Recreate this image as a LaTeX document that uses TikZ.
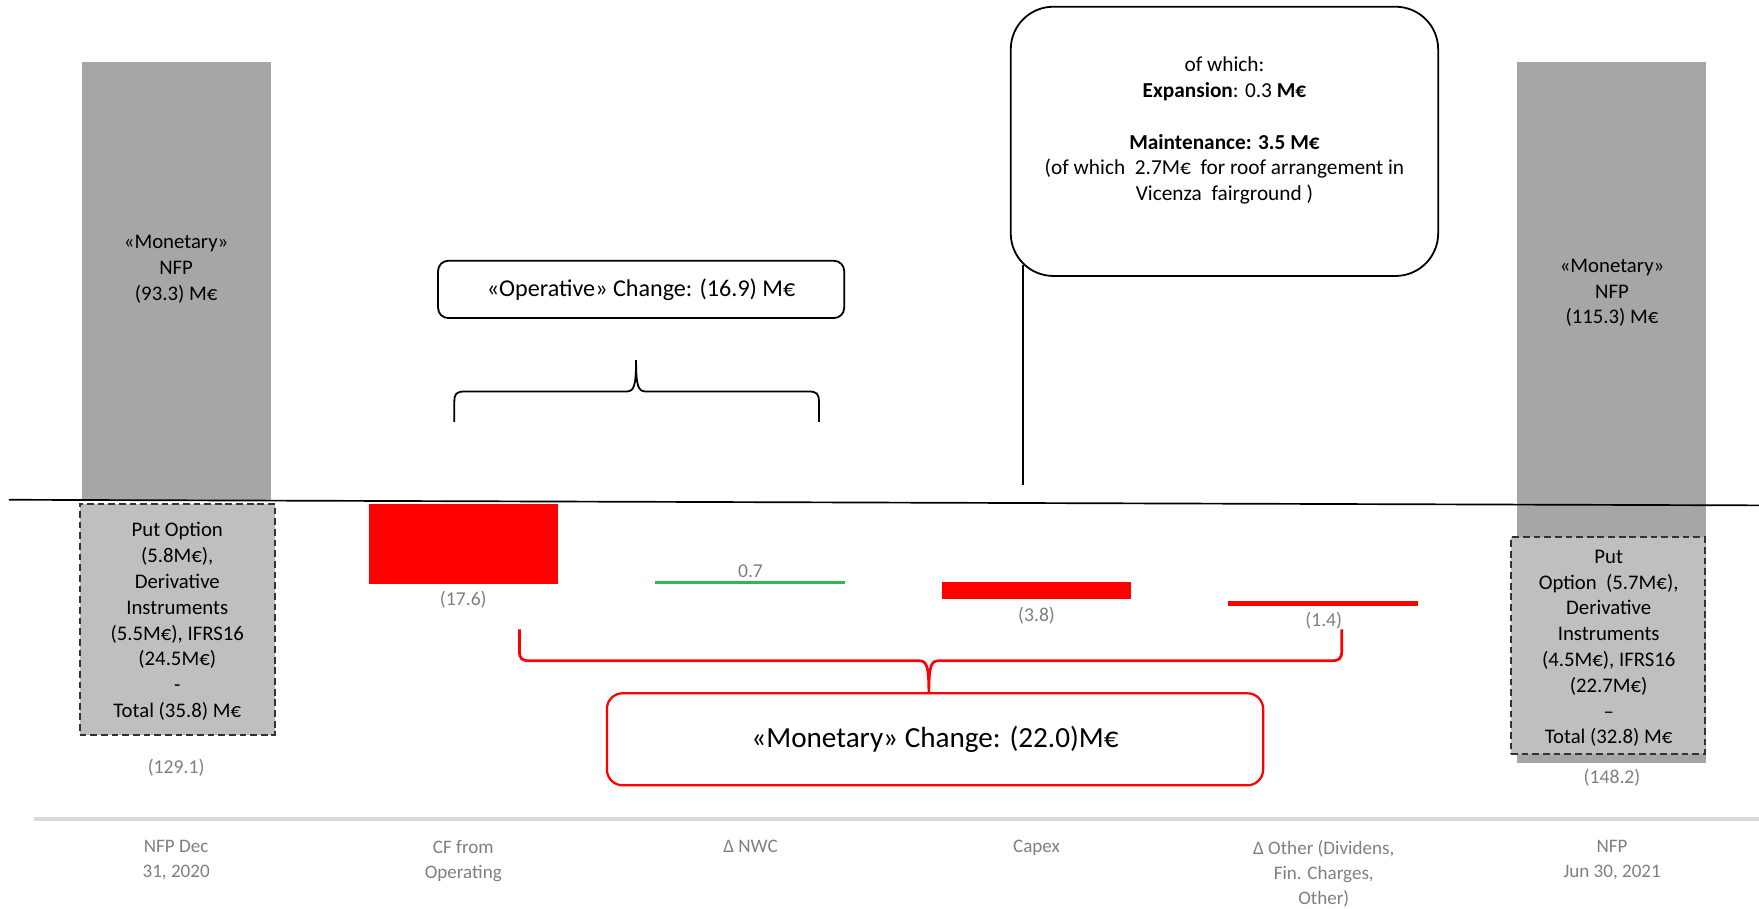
\documentclass[tikz,border=0pt]{standalone}
\usepackage{fontspec}
\setmainfont{Carlito}
\usetikzlibrary{calc}
\definecolor{barGray}{HTML}{A6A6A6}
\definecolor{boxGray}{HTML}{BFBFBF}
\definecolor{valGray}{HTML}{7F7F7F}
\definecolor{sepGray}{HTML}{D9D9D9}
\definecolor{nwcGreen}{HTML}{33B555}
\definecolor{negRed}{HTML}{FF0000}
\begin{document}
\begin{tikzpicture}[x=1pt,y=-1pt,
  every node/.style={inner sep=0pt, outer sep=0pt},
  graybar/.style={fill=barGray, draw=none, anchor=north west},
  dashbox/.style={fill=boxGray, draw=black!80, line width=1.6pt, dash pattern=on 6pt off 3.5pt, anchor=north west},
  redbar/.style={fill=negRed, draw=none, anchor=north west},
  bartext/.style={align=center, font=\fontsize{18.5}{23}\selectfont},
  vallabel/.style={text=valGray, font=\fontsize{17.5}{21}\selectfont},
  catlabel/.style={text=valGray, align=center, anchor=north, font=\fontsize{17}{22.5}\selectfont},
  roundbox/.style={draw=black, line width=1.6pt, rounded corners=9pt},
  bracepath/.style={line width=1.6pt},
  redbrace/.style={draw=negRed, line width=2.4pt},
]
\useasboundingbox (0,0) rectangle (1568,810);

% bars
\node[graybar, minimum width=169pt, minimum height=392pt] (nfpA) at (73,55) {};
\node[dashbox, minimum width=174pt, minimum height=206pt] (adjA) at (71,449) {};
\node[graybar, minimum width=169pt, minimum height=625pt] (nfpB) at (1352,55) {};
\node[dashbox, minimum width=173pt, minimum height=193pt] (adjB) at (1347,479) {};
\node[redbar, minimum width=168pt, minimum height=72pt] (cf) at (329,449) {};
\node[redbar, minimum width=168pt, minimum height=15pt] (capex) at (840,519) {};
\node[redbar, minimum width=169pt, minimum height=4.5pt] (other) at (1095,536) {};
\coordinate (nwcL) at (584,519);
\coordinate (nwcR) at (753,519);
\draw[nwcGreen, line width=2.5pt] (nwcL) -- (nwcR);

% axis and separator
\coordinate (axL) at (8,445.5);
\coordinate (axR) at (1568,450.5);
\draw[line width=1.5pt] (axL) -- (axR);
\coordinate (sepL) at (30,730);
\coordinate (sepR) at (1568,730);
\draw[sepGray, line width=3pt] (sepL) -- (sepR);

% bar texts
\node[bartext] (nfpAtxt) at (157,240) {«Monetary»\\NFP\\(93.3) M€};
\node[bartext] (adjAtxt) at (158,554) {Put Option\\(5.8M€),\\Derivative\\Instruments\\(5.5M€), IFRS16\\(24.5M€)\\-\\Total (35.8) M€};
\node[bartext] (nfpBtxt) at (1437,261) {«Monetary»\\NFP\\(115.3) M€};
\node[bartext] (adjBtxt) at (1434,578) {Put\\Option~ (5.7M€),\\Derivative\\Instruments\\(4.5M€), IFRS16\\(22.7M€)\\–\\Total (32.8) M€};

% value labels
\node[vallabel] (v1) at (157,684) {(129.1)};
\node[vallabel] (v2) at (413,535) {(17.6)};
\node[vallabel] (v3) at (669,509) {0.7};
\node[vallabel] (v4) at (924,549) {(3.8)};
\node[vallabel] (v5) at (1180,553) {(1.4)};
\node[vallabel] (v6) at (1437,693) {(148.2)};

% category labels
\node[catlabel] (c1) at (157,749) {NFP Dec\\31, 2020};
\node[catlabel] (c2) at (413,749) {CF from\\Operating};
\node[catlabel] (c3) at (669,749) {Δ NWC};
\node[catlabel] (c4) at (924,749) {Capex};
\node[catlabel] (c5) at (1180,749) {Δ Other (Dividens,\\Fin. Charges,\\Other)};
\node[catlabel] (c6) at (1437,749) {NFP\\Jun 30, 2021};

% operative box and brace
\node[roundbox, minimum width=362pt, minimum height=51pt, font=\fontsize{21.5}{26}\selectfont] (opbox) at (571.5,258) {«Operative» Change: (16.9) M€};
\coordinate (obL) at (405,376);
\coordinate (obR) at (730,376);
\coordinate (obTip) at (567,321);
\draw[bracepath] (obL) -- (405,358) .. controls (405,351) and (407,349) .. (414,349) -- (558,349) .. controls (565,349) and (567,345) .. (obTip) .. controls (567,345) and (569,349) .. (576,349) -- (721,349) .. controls (728,349) and (730,351) .. (730,358) -- (obR);

% capex callout
\node[roundbox, rounded corners=38pt, minimum width=381pt, minimum height=240pt] (capbox) at (1091.5,126) {};
\node[font=\fontsize{19}{23}\selectfont, align=center] (captxt) at (1091.5,116.5) {of which:\\\textbf{Expansion}: 0.3 \textbf{M€}\\[23pt]\textbf{Maintenance: 3.5 M€}\\(of which~ 2.7M€~ for roof arrangement in\\Vicenza~ fairground )};
\coordinate (capLineTop) at (912,236);
\coordinate (capLineBot) at (912,432);
\draw[line width=1.6pt] (capLineTop) -- (capLineBot);

% monetary box and red brace
\node[roundbox, draw=negRed, line width=2pt, rounded corners=14pt, minimum width=585pt, minimum height=82pt, font=\fontsize{26}{30}\selectfont] (monbox) at (833.5,659) {«Monetary» Change: (22.0)M€};
\coordinate (rbL) at (463,561);
\coordinate (rbR) at (1196,561);
\coordinate (rbTip) at (828,618);
\draw[redbrace] (rbL) -- (463,580) .. controls (463,587) and (465,589) .. (472,589) -- (819,589) .. controls (826,589) and (828,593) .. (rbTip) .. controls (828,593) and (830,589) .. (837,589) -- (1187,589) .. controls (1194,589) and (1196,587) .. (1196,580) -- (rbR);
\end{tikzpicture}
\end{document}
